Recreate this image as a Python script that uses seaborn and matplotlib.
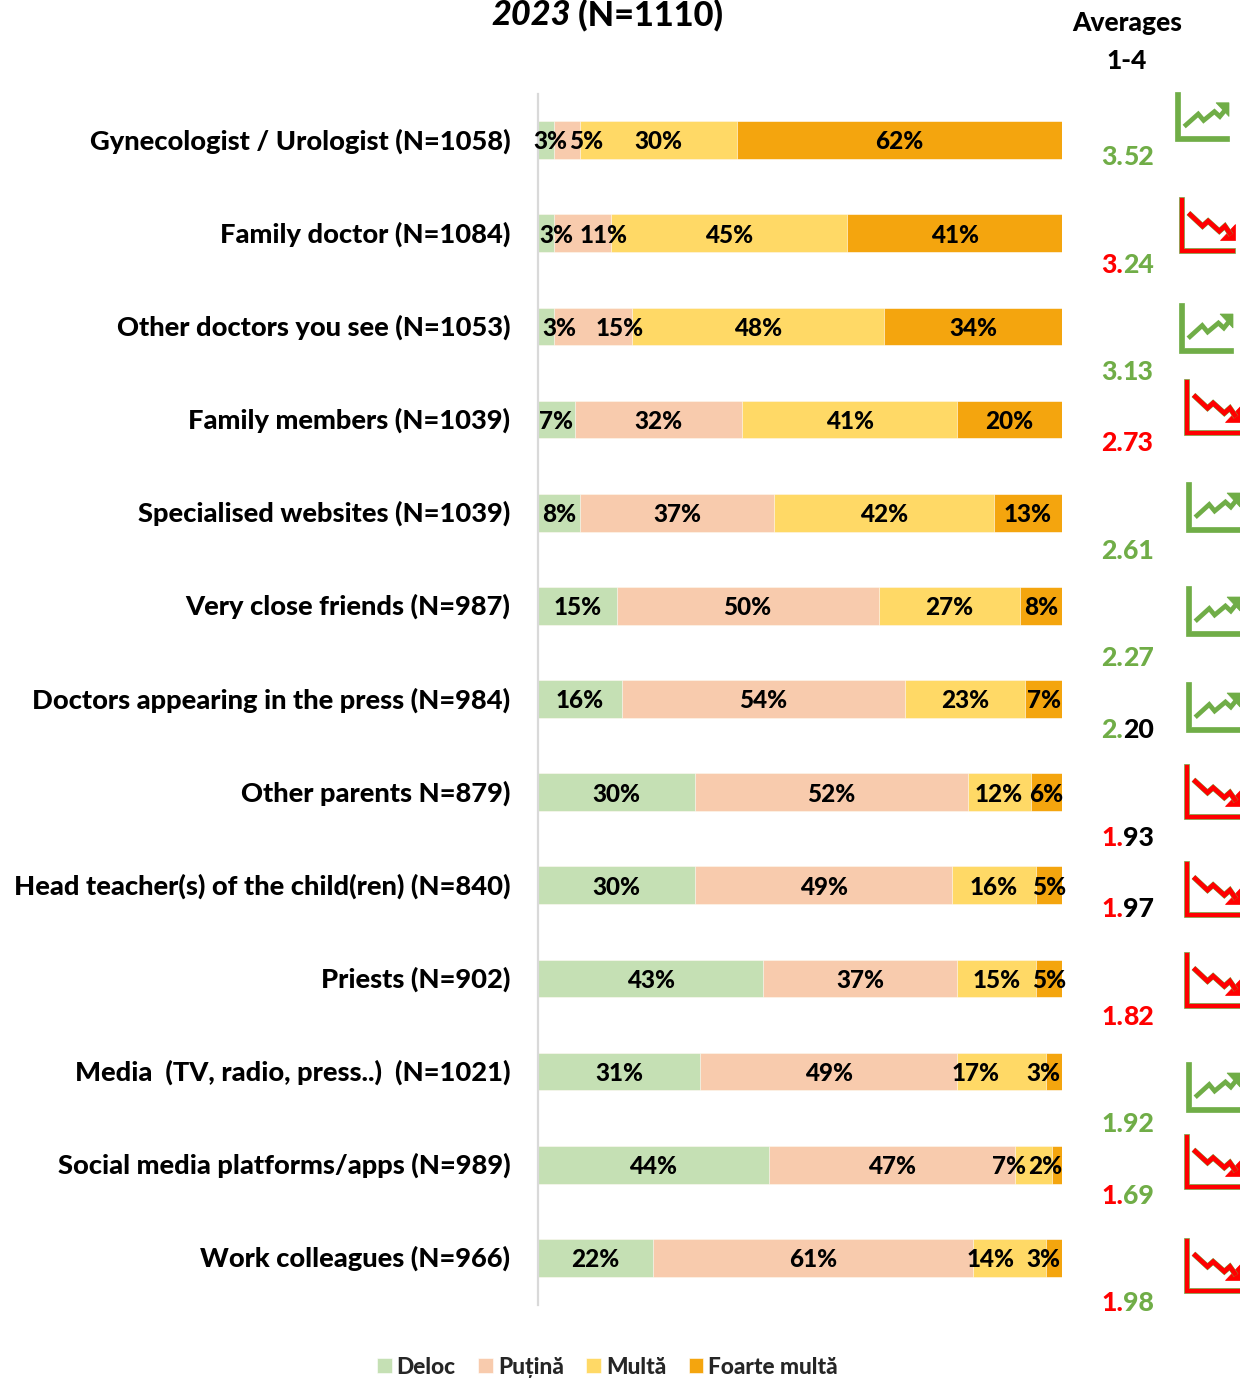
import pandas as pd
import numpy as np
import matplotlib.pyplot as plt
from matplotlib.patches import Polygon
from matplotlib.transforms import ScaledTranslation
import matplotlib.patheffects as pe
import seaborn as sns

categories = ["Gynecologist / Urologist (N=1058)", "Family doctor (N=1084)", "Other doctors you see (N=1053)",
              "Family members (N=1039)", "Specialised websites (N=1039)", "Very close friends (N=987)",
              "Doctors appearing in the press (N=984)", "Other parents N=879)",
              "Head teacher(s) of the child(ren) (N=840)", "Priests (N=902)",
              "Media  (TV, radio, press..)  (N=1021)", "Social media platforms/apps (N=989)",
              "Work colleagues (N=966)"]
deloc = [3, 3, 3, 7, 8, 15, 16, 30, 30, 43, 31, 44, 22]
putina = [5, 11, 15, 32, 37, 50, 54, 52, 49, 37, 49, 47, 61]
multa = [30, 45, 48, 41, 42, 27, 23, 12, 16, 15, 17, 7, 14]
foarte = [62, 41, 34, 20, 13, 8, 7, 6, 5, 5, 3, 2, 3]
series_names = ["Deloc", "Puțină", "Multă", "Foarte multă"]
averages = [3.52, 3.24, 3.13, 2.73, 2.61, 2.27, 2.20, 1.93, 1.97, 1.82, 1.92, 1.69, 1.98]

GREEN = "#70ad47"
RED = "#ff0000"
colors = ["#c5e0b4", "#f8cbad", "#ffd966", "#f4a50e"]
# colour of the digits before and after the point
avg_head = [GREEN, RED, GREEN, RED, GREEN, GREEN, GREEN, RED, RED, RED, GREEN, RED, RED]
avg_tail = [GREEN, GREEN, GREEN, RED, GREEN, GREEN, "black", "black", "black", RED, GREEN, GREEN, GREEN]
avg_y = [165, 273, 380, 451, 559, 666, 738, 846, 917, 1025, 1132, 1204, 1311]

# trend icons: left, top, right, bottom in pixels, up or down
icons = [(1175, 92, 1229, 141, "up"), (1179, 197, 1235, 253, "down"), (1179, 303, 1233, 353, "up"),
         (1184, 379, 1240, 435, "down"), (1186, 482, 1240, 532, "up"), (1186, 586, 1240, 636, "up"),
         (1186, 682, 1240, 732, "up"), (1184, 764, 1240, 819, "down"), (1184, 861, 1240, 917, "down"),
         (1184, 952, 1240, 1008, "down"), (1186, 1062, 1240, 1112, "up"), (1184, 1134, 1240, 1189, "down"),
         (1184, 1238, 1240, 1293, "down")]

# labels the original had dragged off centre, in pixels: (row, segment) -> shift
label_shift = {(0, 0): 4, (0, 1): 19, (1, 0): 10, (1, 1): 21, (2, 0): 13, (2, 1): 27,
               (10, 2): -26, (10, 3): -11, (11, 2): -24, (11, 3): -12, (12, 2): -19, (12, 3): -11}

W, H = 1254, 1378
WEIGHT = 900
sns.set_theme(style="white")
plt.rcParams['font.family'] = ['Lato', 'DejaVu Sans']
plt.rcParams['font.weight'] = WEIGHT

df = pd.DataFrame({"cat": categories, series_names[0]: deloc, series_names[1]: putina,
                   series_names[2]: multa, series_names[3]: foarte})
cum = df[series_names].cumsum(axis=1)

fig = plt.figure(figsize=(W / 100, H / 100), dpi=100)
ax = fig.add_axes([538 / W, 1 - 1304.5 / H, (1062 - 538) / W, (1305 - 94) / H])

# stacked bars: cumulative totals, longest first
for name, col in reversed(list(zip(series_names, colors))):
    sns.barplot(x=cum[name], y=df["cat"], color=col, saturation=1, width=0.405, label=name,
                edgecolor="white", linewidth=0.4, ax=ax, legend=False)

ax.set_xlim(0, 100)
ax.set_ylim(12.5, -0.5)
ax.set_xlabel("")
ax.set_ylabel("")
ax.set_xticks([])
ax.tick_params(axis="y", length=0, pad=20, labelsize=19.6, labelcolor="black")
nudge = ScaledTranslation(0, 1.3 / 100, fig.dpi_scale_trans)
for lab in ax.get_yticklabels():
    lab.set_fontweight(WEIGHT)
    lab.set_transform(lab.get_transform() + nudge)
sns.despine(ax=ax, top=True, right=True, bottom=True)
ax.spines["left"].set_color("#d9d9d9")
ax.spines["left"].set_linewidth(1.6)

px = 100 / (1062 - 538)
for i in range(len(categories)):
    left = 0
    for j, name in enumerate(series_names):
        v = df[name][i]
        ax.text(left + v / 2 + label_shift.get((i, j), 0) * px, i + 0.02, f"{v}%", ha="center", va="center",
                fontsize=17.5, fontweight=WEIGHT, color="black")
        left += v

handles, labels = ax.get_legend_handles_labels()
fig.legend(handles[::-1], labels[::-1], ncol=4, frameon=False, loc="center",
           bbox_to_anchor=(607.5 / W, 1 - 1367 / H), handlelength=0.64, handleheight=0.64,
           handletextpad=0.22, columnspacing=1.0, borderaxespad=0, prop={"size": 16.3, "weight": WEIGHT})

# overlay in pixel coordinates for the side column and title; icons get cut at 1240 as in the original
deco = fig.add_axes([0, 0, 1240 / W, 1], zorder=5)
deco.set_xlim(0, 1240)
deco.set_ylim(H, 0)
deco.axis("off")
deco.patch.set_alpha(0)

t = fig.text(491 / W, 1 - 25 / H, "2023", fontsize=24.7, fontweight=WEIGHT, style="italic", color="black", va="baseline")
deco.annotate(" (N=1110)", xy=(1, 0), xycoords=t, va="bottom", fontsize=24.7, fontweight=WEIGHT, color="black",
              annotation_clip=False)
deco.text(1127, 23, "Averages", ha="center", va="center", fontsize=19, fontweight=WEIGHT, color="black")
deco.text(1127, 61, "1-4", ha="center", va="center", fontsize=19, fontweight=WEIGHT, color="black")

for val, head, tail, y in zip(averages, avg_head, avg_tail, avg_y):
    s = f"{val:.2f}"
    a = deco.text(1101, y, s[:2], ha="left", va="baseline", fontsize=19.2, fontweight=WEIGHT, color=head)
    deco.annotate(s[2:], xy=(1, 0), xycoords=a, xytext=(0, 0), textcoords="offset points", va="bottom",
                  ha="left", fontsize=19.2, fontweight=WEIGHT, color=tail)

up_path = [(.17, .705), (.43, .45), (.53, .58), (.73, .40), (.83, .50), (.95, .34)]
up_head = [(1, .22), (1, .50), (.76, .22)]
down_path = [(.17, .286), (.42, .52), (.52, .43), (.72, .61), (.82, .52), (.93, .68)]
down_head = [(1, .48), (1, .77), (.73, .77)]


def draw_icon(l, top, r, b, kind):
    w, h = r - l, b - top
    path, tip, col = (up_path, up_head, GREEN) if kind == "up" else (down_path, down_head, RED)
    # the red icons keep a thin green outline
    edge = GREEN
    t_px = 5
    corner = [(l, top), (l + t_px, top), (l + t_px, b - t_px), (r, b - t_px), (r, b), (l, b)]
    deco.add_patch(Polygon(corner, closed=True, fc=col, ec=edge, lw=0.5))
    xs = [l + u * w for u, v in path]
    ys = [top + v * h for u, v in path]
    fx = [pe.withStroke(linewidth=4.0, foreground=edge)] if kind == "down" else None
    deco.plot(xs, ys, color=col, lw=3.4, solid_capstyle="butt", solid_joinstyle="miter", path_effects=fx)
    deco.add_patch(Polygon([(l + u * w, top + v * h) for u, v in tip], closed=True, fc=col, ec=col, lw=0.5))


for l, top, r, b, kind in icons:
    draw_icon(l, top, r, b, kind)

fig.savefig("out.png", dpi=100)
